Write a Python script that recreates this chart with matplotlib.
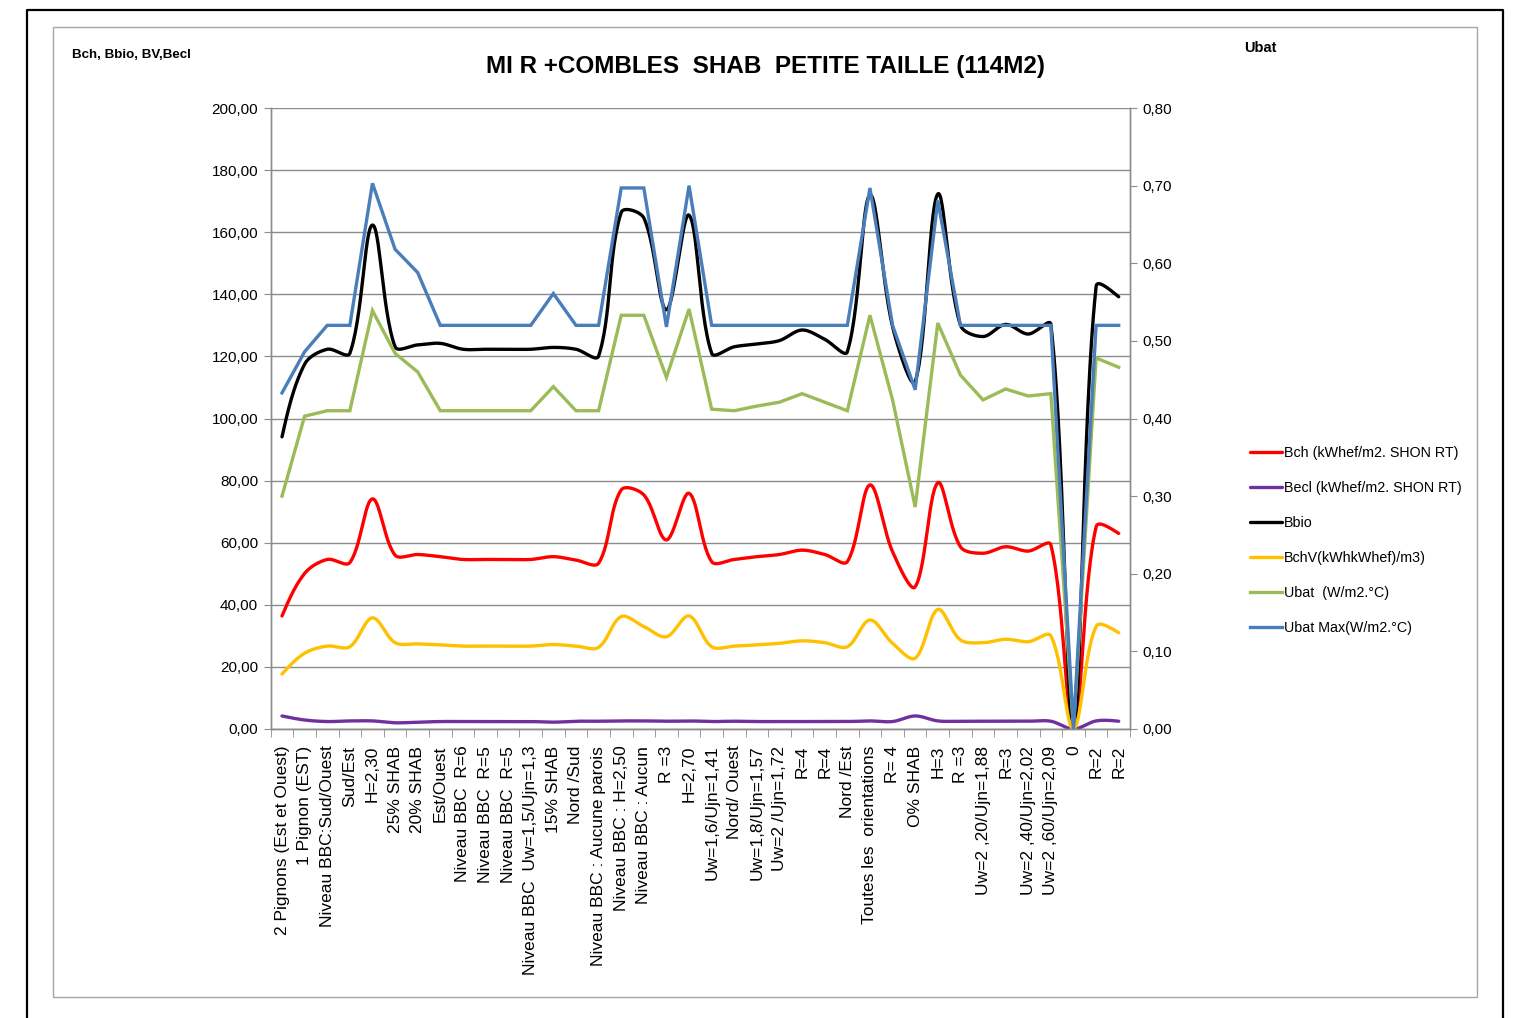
import numpy as np
import matplotlib
matplotlib.use("Agg")
import matplotlib.pyplot as plt
from matplotlib.lines import Line2D
from matplotlib.patches import Rectangle
from matplotlib.ticker import FuncFormatter, MultipleLocator

plt.rcParams['font.family'] = ['Liberation Sans', 'DejaVu Sans']

labels = ["2 Pignons (Est et Ouest)", "1 Pignon (EST)", "Niveau BBC:Sud/Ouest", "Sud/Est",
          "H=2,30", "25% SHAB", "20% SHAB", "Est/Ouest", "Niveau BBC  R=6", "Niveau BBC  R=5",
          "Niveau BBC  R=5", "Niveau BBC  Uw=1,5/Ujn=1,3", "15% SHAB", "Nord /Sud",
          "Niveau BBC : Aucune parois", "Niveau BBC : H=2,50", "Niveau BBC : Aucun", "R =3",
          "H=2,70", "Uw=1,6/Ujn=1,41", "Nord/ Ouest", "Uw=1,8/Ujn=1,57", "Uw=2 /Ujn=1,72",
          "R=4", "R=4", "Nord /Est", "Toutes les  orientations", "R= 4", "O% SHAB", "H=3",
          "R =3", "Uw=2 ,20/Ujn=1,88", "R=3", "Uw=2 ,40/Ujn=2,02", "Uw=2 ,60/Ujn=2,09",
          "0", "R=2", "R=2"]

bch = [36.4, 50.1, 54.6, 53.6, 74.1, 56.0, 56.2, 55.5, 54.6, 54.6, 54.6, 54.6, 55.5, 54.4,
       53.4, 77.0, 75.4, 60.9, 75.9, 53.9, 54.6, 55.5, 56.2, 57.6, 56.2, 53.9, 78.6, 57.1,
       45.8, 79.3, 58.7, 56.6, 58.7, 57.3, 59.3, 0.0, 65.1, 63.0]
becl = [4.2, 2.9, 2.4, 2.6, 2.6, 2.0, 2.2, 2.4, 2.4, 2.4, 2.4, 2.4, 2.2, 2.5, 2.5, 2.6,
        2.6, 2.5, 2.6, 2.4, 2.5, 2.4, 2.4, 2.4, 2.4, 2.4, 2.6, 2.4, 4.2, 2.6, 2.5, 2.5,
        2.5, 2.5, 2.5, 0.0, 2.6, 2.5]
bbio = [94.1, 117.5, 122.3, 121.0, 162.3, 123.1, 123.7, 124.2, 122.3, 122.3, 122.3, 122.3,
        122.9, 122.3, 120.1, 166.4, 164.6, 135.0, 165.5, 121.0, 123.1, 124.0, 125.1, 128.5,
        125.5, 121.5, 172.0, 129.6, 111.9, 172.3, 130.1, 126.4, 130.3, 127.2, 130.3, 0.0,
        142.5, 139.2]
bchv = [17.7, 24.4, 26.7, 26.5, 35.8, 27.8, 27.4, 27.1, 26.7, 26.7, 26.7, 26.7, 27.2, 26.7,
        26.3, 36.2, 33.0, 29.7, 36.4, 26.5, 26.7, 27.1, 27.6, 28.4, 27.8, 26.5, 35.1, 27.6,
        22.8, 38.5, 28.7, 27.8, 28.9, 28.1, 30.0, 0.0, 33.0, 31.0]
ubat = [0.30, 0.403, 0.41, 0.41, 0.539, 0.484, 0.46, 0.41, 0.41, 0.41, 0.41, 0.41, 0.441,
        0.41, 0.41, 0.533, 0.533, 0.453, 0.541, 0.412, 0.41, 0.416, 0.421, 0.432, 0.421,
        0.41, 0.533, 0.424, 0.286, 0.523, 0.456, 0.424, 0.438, 0.429, 0.432, 0.0, 0.478, 0.466]
ubat_max = [0.433, 0.486, 0.52, 0.52, 0.703, 0.618, 0.588, 0.52, 0.52, 0.52, 0.52, 0.52,
            0.561, 0.52, 0.52, 0.697, 0.697, 0.518, 0.70, 0.52, 0.52, 0.52, 0.52, 0.52,
            0.52, 0.52, 0.697, 0.52, 0.437, 0.681, 0.52, 0.52, 0.52, 0.52, 0.52, 0.0, 0.52, 0.52]

series_names = ["Bch (kWhef/m2. SHON RT)", "Becl (kWhef/m2. SHON RT)", "Bbio",
                "BchV(kWhkWhef)/m3)", "Ubat  (W/m2.°C)", "Ubat Max(W/m2.°C)"]
colors = ["#FF0000", "#7030A0", "#000000", "#FFC000", "#9BBB59", "#4A7EBB"]


def smooth(ax, y, n=30):
    """Bezier smoothing in display space, tangents split by neighbouring chord lengths."""
    x = np.arange(len(y), dtype=float)
    P = ax.transData.transform(np.column_stack([x, np.asarray(y, float)]))
    m = len(P)
    seglen = np.linalg.norm(np.diff(P, axis=0), axis=1)
    out_c = np.zeros_like(P)
    in_c = np.zeros_like(P)
    for i in range(m):
        if i == 0 or i == m - 1:
            out_c[i] = P[i]
            in_c[i] = P[i]
            continue
        a, b = seglen[i - 1], seglen[i]
        d = P[i + 1] - P[i - 1]
        s = a + b
        if s == 0:
            out_c[i] = in_c[i] = P[i]
            continue
        out_c[i] = P[i] + d * (1 / 3) * b / s
        in_c[i] = P[i] - d * (1 / 3) * a / s
    pts = []
    t = np.linspace(0, 1, n, endpoint=False)[:, None]
    for i in range(m - 1):
        p1, c1, c2, p2 = P[i], out_c[i], in_c[i + 1], P[i + 1]
        if i == 0:
            c1 = p1 + (c2 - p1) * 0.5
        if i == m - 2:
            c2 = p2 + (c1 - p2) * 0.5
        b = ((1 - t) ** 3) * p1 + 3 * ((1 - t) ** 2) * t * c1 + 3 * (1 - t) * t ** 2 * c2 + t ** 3 * p2
        pts.append(b)
    pts.append(P[-1:])
    pts = np.vstack(pts)
    dd = ax.transData.inverted().transform(pts)
    return dd[:, 0], dd[:, 1]


W, H = 1513, 1018
fig = plt.figure(figsize=(W / 100, H / 100), dpi=100)

# frames
fig.add_artist(Line2D([27 / W, 27 / W, 1503 / W, 1503 / W], [0, 1 - 10 / H, 1 - 10 / H, 0],
                      transform=fig.transFigure, color="black", lw=1.6))
fig.add_artist(Rectangle((53 / W, 1 - 997 / H), (1477 - 53) / W, (997 - 27) / H,
                         transform=fig.transFigure, fill=False, edgecolor="#A6A6A6", lw=1.0))

left, right, top, bottom = 270.7, 1130, 108, 729
ax = fig.add_axes([left / W, 1 - bottom / H, (right - left) / W, (bottom - top) / H])
ax2 = ax.twinx()

n = len(labels)
xi = np.arange(n)
ax.set_xlim(-0.5, n - 0.5)
ax.set_ylim(0, 200)
ax2.set_ylim(0, 0.8)

lw = 2.4
handles = []
for data, c, name in zip([bch, becl, bbio, bchv], colors[:4], series_names[:4]):
    sx, sy = smooth(ax, data)
    h, = ax.plot(sx, sy, color=c, lw=lw, solid_capstyle="round", label=name)
    handles.append(h)
for data, c, name in zip([ubat, ubat_max], colors[4:], series_names[4:]):
    h, = ax2.plot(xi, data, color=c, lw=lw, solid_joinstyle="miter", label=name)
    handles.append(h)

fmt = FuncFormatter(lambda v, p: f"{v:.2f}".replace(".", ","))
ax.yaxis.set_major_locator(MultipleLocator(20))
ax.yaxis.set_major_formatter(fmt)
ax2.yaxis.set_major_locator(MultipleLocator(0.1))
ax2.yaxis.set_major_formatter(fmt)

ax.grid(axis="y", color="#8C8C8C", lw=1.0)
ax.set_axisbelow(True)

ax.set_xticks(xi)
ax.set_xticklabels(labels, rotation=90, fontsize=12.5)
ax.set_xticks(np.arange(n + 1) - 0.5, minor=True)
ax.tick_params(axis="x", which="major", length=0, pad=12)
ax.tick_params(axis="x", which="minor", length=6, color="#8C8C8C", direction="out")
ax.tick_params(axis="y", length=5, color="#8C8C8C", labelsize=11, pad=4)
ax2.tick_params(axis="y", length=5, color="#8C8C8C", labelsize=11, pad=4)

for a in (ax, ax2):
    for s in a.spines.values():
        s.set_color("#8C8C8C")
        s.set_linewidth(1.0)
    a.spines["top"].set_visible(False)

fig.text(765 / W, 1 - 66 / H, "MI R +COMBLES  SHAB  PETITE TAILLE (114M2)", ha="center",
         va="center", fontsize=17.5, fontweight="bold")
fig.text(72 / W, 1 - 55 / H, "Bch, Bbio, BV,Becl", ha="left", va="center", fontsize=9.6,
         fontweight="bold")
fig.text(1244 / W, 1 - 48 / H, "Ubat", ha="left", va="center", fontsize=10.5,
         fontweight="bold")

fig.legend(handles=handles, loc="upper left", bbox_to_anchor=(1250 / W, 1 - 446 / H),
           frameon=False, fontsize=10.3, handlelength=2.25, handletextpad=0.1,
           labelspacing=1.47, borderpad=0, borderaxespad=0)

fig.savefig("out.png", dpi=100)
